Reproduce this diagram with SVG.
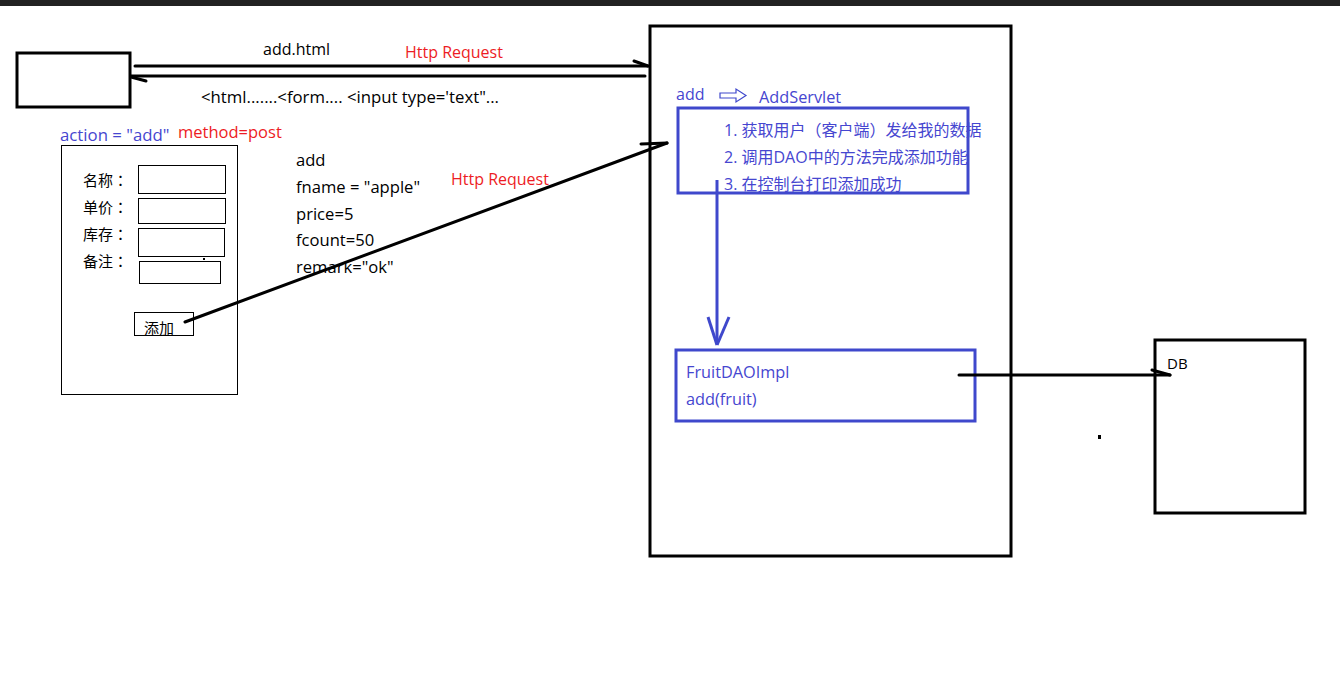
<svg xmlns="http://www.w3.org/2000/svg" width="1340" height="699" viewBox="0 0 1340 699">
<style>
text{font-family:"Open Sans","Noto Sans","Noto Sans CJK SC",sans-serif;font-size:16px;fill:#000}
.cjk{font-family:"Open Sans","Noto Sans CJK SC",sans-serif;font-size:15px}
.colon{font-family:"Noto Sans CJK TC",sans-serif}
.red{fill:#ed1c24}
.blue{fill:#4646d0}
.thick{fill:none;stroke:#000;stroke-width:3}
.thin{fill:none;stroke:#000;stroke-width:1}
.bbox{fill:none;stroke:#3f48cc;stroke-width:3}
.conn{fill:none;stroke:#000;stroke-width:3;stroke-linecap:round}
.bconn{fill:none;stroke:#3f48cc;stroke-width:3}
</style>
<rect width="1340" height="699" fill="#fff"/>
<rect x="0" y="0" width="1340" height="6" fill="#222"/>

<g id="browser">
<rect class="thick" x="17" y="53" width="113" height="54"/>
</g>

<g id="form">
<text x="60" y="141" class="blue" style="font-size:16.8px">action = "add"</text>
<text x="178" y="138" class="red" style="font-size:16.5px">method=post</text>
<rect class="thin" x="61.5" y="145.5" width="176" height="249"/>
<text x="83" y="186" class="cjk">名称<tspan class="colon">：</tspan></text>
<text x="83" y="213" class="cjk">单价<tspan class="colon">：</tspan></text>
<text x="83" y="240" class="cjk">库存<tspan class="colon">：</tspan></text>
<text x="83" y="267" class="cjk">备注<tspan class="colon">：</tspan></text>
<rect class="thin" x="138.5" y="165.5" width="87" height="28"/>
<rect class="thin" x="138.5" y="198.5" width="87" height="25"/>
<rect class="thin" x="138.5" y="228.5" width="86" height="28"/>
<rect class="thin" x="139.5" y="261.5" width="81" height="22"/>
<rect x="203" y="258" width="2" height="2" fill="#000"/>
<rect class="thin" x="134.5" y="312.5" width="59" height="23"/>
<text x="144" y="334" class="cjk">添加</text>
</g>

<g id="params">
<text x="296" y="166" style="font-size:16.6px">add</text>
<text x="296" y="193" style="font-size:16.6px">fname = "apple"</text>
<text x="296" y="220" style="font-size:16.6px">price=5</text>
<text x="296" y="246" style="font-size:16.6px">fcount=50</text>
<text x="296" y="273" style="font-size:16.6px">remark="ok"</text>
</g>

<g id="server">
<rect class="thick" x="650" y="26" width="361" height="530"/>
</g>

<g id="addservlet">
<text x="676" y="100" class="blue">add</text>
<polygon points="720,93 736,93 736,89 746,95.5 736,102 736,98 720,98" fill="none" stroke="#3f48cc" stroke-width="1.2"/>
<text x="759" y="103" class="blue" style="font-size:16.3px">AddServlet</text>
<rect class="bbox" x="678" y="108" width="290" height="85"/>
<text x="724" y="136" class="blue">1. 获取用户（客户端）发给我的数据</text>
<text x="724" y="163" class="blue">2. 调用DAO中的方法完成添加功能</text>
<text x="724" y="190" class="blue">3. 在控制台打印添加成功</text>
</g>

<g id="fruitdao">
<rect class="bbox" x="676" y="350" width="299" height="71"/>
<text x="686" y="378" class="blue" style="font-size:16.3px">FruitDAOImpl</text>
<text x="686" y="405" class="blue" style="font-size:16.3px">add(fruit)</text>
</g>

<g id="db">
<rect class="thick" x="1155" y="340" width="150" height="173"/>
<text x="1167" y="369" style="font-size:15px">DB</text>
</g>

<rect x="1098" y="435" width="3" height="4" fill="#000"/>

<g id="connectors">
<line class="conn" x1="135" y1="66" x2="648" y2="66"/>
<line class="conn" x1="634" y1="61" x2="648" y2="66"/>
<text x="263" y="55">add.html</text>
<text x="405" y="58" class="red">Http Request</text>

<line class="conn" x1="645" y1="76" x2="131" y2="76"/>
<line class="conn" x1="131" y1="77" x2="146" y2="81"/>
<text x="201" y="103" textLength="298" lengthAdjust="spacingAndGlyphs">&lt;html.......&lt;form.... &lt;input type='text"...</text>

<line class="conn" x1="185" y1="322" x2="667" y2="143"/>
<line class="conn" x1="641" y1="144" x2="667" y2="143"/>
<text x="451" y="185" class="red">Http Request</text>

<line class="bconn" x1="717" y1="180" x2="717" y2="344"/>
<line class="bconn" x1="708" y1="317" x2="717" y2="345"/>
<line class="bconn" x1="729" y1="317" x2="717" y2="345"/>

<line class="conn" x1="959" y1="375" x2="1170" y2="375"/>
<line class="conn" x1="1152" y1="370" x2="1170" y2="375"/>
</g>
</svg>
